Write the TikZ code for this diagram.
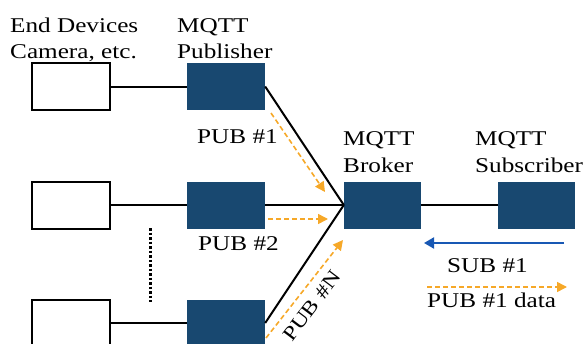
\documentclass[tikz,border=0pt]{standalone}
\usepackage{fontspec}
\setmainfont{Liberation Serif}[FakeStretch=1.2]
\usetikzlibrary{arrows.meta}
\definecolor{boxblue}{RGB}{24,72,112}
\definecolor{pubor}{RGB}{246,168,40}
\definecolor{subblue}{RGB}{24,88,180}
\tikzset{
  devbox/.style={draw=black, line width=2pt, fill=white, minimum width=78pt, minimum height=47pt, inner sep=0pt},
  mqbox/.style={fill=boxblue, minimum width=78pt, minimum height=47pt, inner sep=0pt},
  conn/.style={line width=2pt, black},
  pubarrow/.style={pubor, line width=1.6pt, dash pattern=on 5pt off 3pt, -{Triangle[length=10pt,width=10pt]}},
  subarrow/.style={subblue, line width=2pt, -{Triangle[length=10pt,width=11pt]}},
  lbl/.style={anchor=base west, inner sep=0pt, font=\fontsize{21}{23}\selectfont},
}
\begin{document}
\begin{tikzpicture}[x=1pt,y=1pt]
\useasboundingbox (0,0) rectangle (584,-343);
\clip (0,0) rectangle (584,-343);
% boxes
\node[devbox] (ed1) at (71,-86.5) {};
\node[devbox] (ed2) at (71,-205) {};
\node[devbox] (ed3) at (71,-323) {};
\node[mqbox] (pub1) at (226,-86.5) {};
\node[mqbox] (pub2) at (226,-205) {};
\node[mqbox] (pub3) at (226,-323) {};
\node[mqbox, minimum width=77pt] (broker) at (382.5,-205) {};
\node[mqbox, minimum width=77pt] (sub) at (536.5,-205) {};
% connectors
\draw[conn] (ed1.east) -- (pub1.west);
\draw[conn] (ed2.east) -- (pub2.west);
\draw[conn] (ed3.east) -- (pub3.west);
\draw[conn] (pub1.east) -- (broker.west);
\draw[conn] (pub2.east) -- (broker.west);
\draw[conn] (pub3.east) -- (broker.west);
\draw[conn] (broker.east) -- (sub.west);
% dotted ellipsis
\coordinate (dotA) at (150,-228);
\coordinate (dotB) at (150,-302);
\draw[line width=3pt, dash pattern=on 2.5pt off 2pt] (dotA) -- (dotB);
% publish arrows
\coordinate (p1s) at (271,-113);
\coordinate (p1e) at (325,-192);
\coordinate (p2s) at (268,-219);
\coordinate (p2e) at (328,-219);
\coordinate (p3s) at (266,-338);
\coordinate (p3e) at (343,-240);
\draw[pubarrow] (p1s) -- (p1e);
\draw[pubarrow] (p2s) -- (p2e);
\draw[pubarrow] (p3s) -- (p3e);
% subscribe / data arrows
\coordinate (ss) at (564,-243);
\coordinate (se) at (424,-243);
\draw[subarrow] (ss) -- (se);
\coordinate (ds) at (427,-287);
\coordinate (de) at (567,-287);
\draw[pubarrow] (ds) -- (de);
% labels
\node[lbl] (t1) at (10,-32) {End Devices};
\node[lbl] (t2) at (10,-58) {Camera, etc.};
\node[lbl] (t3) at (177,-32) {MQTT};
\node[lbl] (t4) at (177,-58) {Publisher};
\node[lbl] (t5) at (343,-145) {MQTT};
\node[lbl] (t6) at (343,-172) {Broker};
\node[lbl] (t7) at (475,-145) {MQTT};
\node[lbl] (t8) at (475,-172) {Subscriber};
\node[lbl] (t9) at (197,-143) {PUB \#1};
\node[lbl] (t10) at (198,-250) {PUB \#2};
\node[inner sep=0pt, rotate=53, font=\fontsize{20}{22}\selectfont] (t11) at (312,-306) {PUB \#N};
\node[lbl] (t12) at (447,-272) {SUB \#1};
\node[lbl] (t13) at (427,-307) {PUB \#1 data};
\end{tikzpicture}
\end{document}
